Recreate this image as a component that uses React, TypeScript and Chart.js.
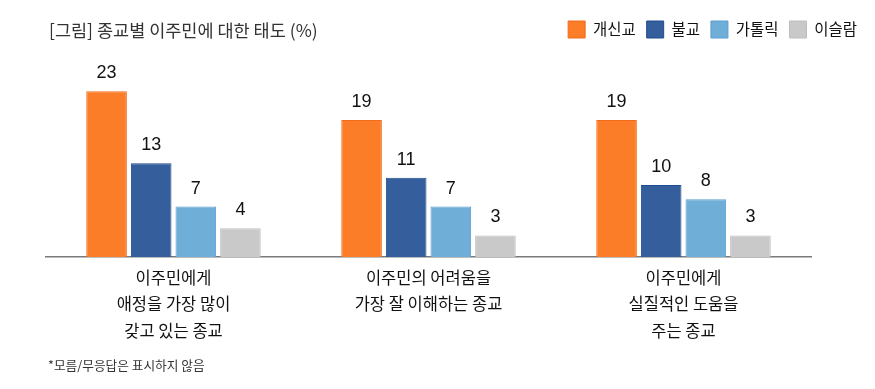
import React, { useEffect, useRef } from "react";
import { Chart, registerables } from "chart.js";

Chart.register(...registerables);

const categories: string[][] = [
  ["이주민에게", "애정을 가장 많이", "갖고 있는 종교"],
  ["이주민의 어려움을", "가장 잘 이해하는 종교"],
  ["이주민에게", "실질적인 도움을", "주는 종교"],
];
const seriesNames = ["개신교", "불교", "가톨릭", "이슬람"];
const protestant = [23, 19, 19];
const buddhism = [13, 11, 10];
const catholic = [7, 7, 8];
const islam = [4, 3, 3];
const fills = ["#FB7D27", "#345F9C", "#6FAED7", "#C9C9C9"];
const borders = ["#F26A1B", "#1F4C8E", "#5A9ED0", "#BEBEBE"];

const KR = '"Noto Sans CJK KR", "Noto Sans", sans-serif';

const valueLabels = {
  id: "valueLabels",
  afterDatasetsDraw(chart: any) {
    const ctx = chart.ctx;
    ctx.save();
    ctx.font = '18px Arial, "Liberation Sans", sans-serif';
    ctx.fillStyle = "#111";
    ctx.textAlign = "center";
    ctx.textBaseline = "middle";
    chart.data.datasets.forEach((ds: any, i: number) => {
      const meta = chart.getDatasetMeta(i);
      meta.data.forEach((bar: any, j: number) => {
        ctx.fillText(String(ds.data[j]), bar.x, bar.y - 18);
      });
    });
    ctx.restore();
  },
};

export default function App() {
  const ref = useRef<HTMLCanvasElement | null>(null);

  useEffect(() => {
    if (!ref.current) return;
    const values = [protestant, buddhism, catholic, islam];
    const chart = new Chart(ref.current, {
      type: "bar",
      data: {
        labels: categories,
        datasets: values.map((d, i) => ({
          label: seriesNames[i],
          data: d,
          backgroundColor: fills[i],
          borderColor: borders[i],
          borderWidth: 1,
          categoryPercentage: 0.7,
          barPercentage: 0.91,
        })),
      },
      options: {
        animation: false,
        responsive: false,
        devicePixelRatio: 1,
        layout: { padding: { left: 46, right: 7, top: 10, bottom: 0 } },
        plugins: {
          legend: {
            position: "top",
            align: "end",
            labels: {
              boxWidth: 17,
              boxHeight: 17,
              padding: 11,
              color: "#111",
              font: { family: KR, size: 15.5 },
            },
          },
          tooltip: { enabled: false },
        },
        scales: {
          x: {
            grid: { display: false, drawTicks: false, tickLength: 0 },
            border: { display: true, color: "#7a7a7a", width: 1.5 },
            ticks: {
              color: "#111",
              padding: 7,
              autoSkip: false,
              maxRotation: 0,
              font: { family: KR, size: 16.5, lineHeight: 26.5 / 16.5 },
            },
            afterFit: (s: any) => {
              s.height = 132;
            },
          },
          y: {
            display: false,
            min: 0,
            max: 29,
          },
          y2: {
            position: "right",
            display: true,
            grid: { display: false },
            border: { display: false },
            ticks: { display: false },
            afterFit: (s: any) => {
              s.width = 57;
            },
          },
        },
      },
      plugins: [valueLabels],
    } as any);
    return () => chart.destroy();
  }, []);

  return (
    <div
      style={{
        position: "fixed",
        left: 0,
        top: 0,
        width: 875,
        height: 389,
        background: "#fff",
      }}
    >
      <canvas ref={ref} width={875} height={389} style={{ display: "block" }} />
      <div
        style={{
          position: "absolute",
          left: 49,
          top: 19,
          fontFamily: KR,
          fontSize: 17.5,
          lineHeight: "22px",
          color: "#333",
          whiteSpace: "nowrap",
        }}
      >
        [그림] 종교별 이주민에 대한 태도 (%)
      </div>
      <div
        style={{
          position: "absolute",
          left: 48,
          top: 357,
          fontFamily: KR,
          fontSize: 12.7,
          lineHeight: "16px",
          color: "#333",
          whiteSpace: "nowrap",
        }}
      >
        *모름/무응답은 표시하지 않음
      </div>
    </div>
  );
}
